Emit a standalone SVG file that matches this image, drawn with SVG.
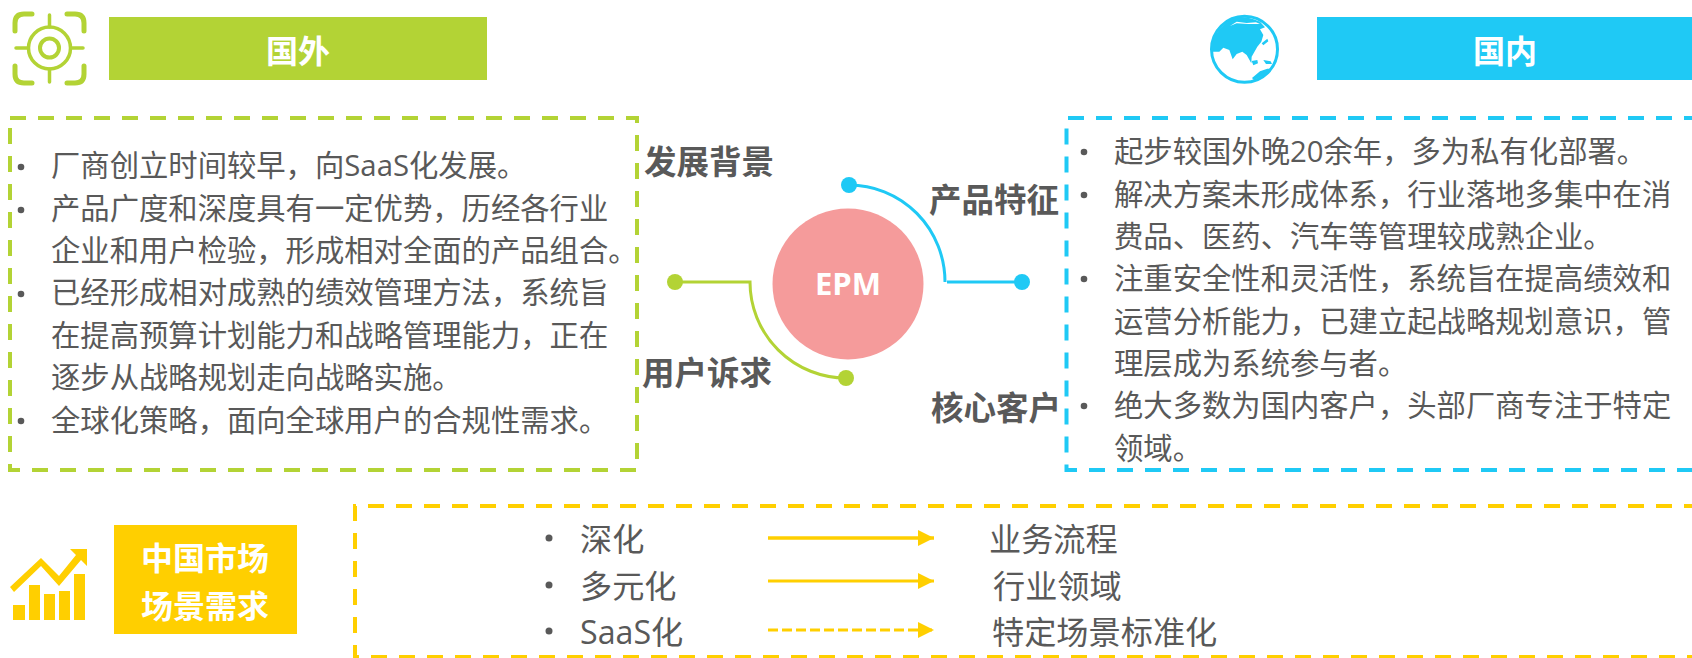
<svg xmlns="http://www.w3.org/2000/svg" width="1692" height="658" viewBox="0 0 1692 658">
<style>
text{font-family:"Open Sans","Noto Sans CJK SC","Noto Sans",sans-serif;fill:#595959}
.b{font-size:29.330px}
.m{font-size:32.200px}
.h{font-size:32.500px;font-weight:700}
.w{font-size:32px;font-weight:700;fill:#fff;text-anchor:middle}
.dg,.dc,.dy{fill:none;stroke-width:4;stroke-dasharray:16 12}
.dg{stroke:#B3D335}.dc{stroke:#1FC9F5}.dy{stroke:#FFCF00}
.ar{stroke:#FFCF00;fill:none}
.ico{fill:none;stroke:#B3D335;stroke-linecap:round}
.dot{fill:#595959}
</style>
<defs>
<marker id="ah" markerUnits="userSpaceOnUse" markerWidth="16" markerHeight="16" refX="16" refY="8" orient="auto"><path d="M0 0L16 8L0 16z" fill="#FFCF00"/></marker>
</defs>
<g id="icon-target">
<path class="ico" stroke-width="5" d="M15 31V23Q15 14 24 14H32M67 14H75Q84 14 84 23V31M84 66V74Q84 83 75 83H67M32 83H24Q15 83 15 74V66"/>
<circle class="ico" cx="49.500" cy="48" r="21" stroke-width="3.500"/>
<circle class="ico" cx="49.500" cy="48" r="9.500" stroke-width="4"/>
<path class="ico" stroke-width="3.500" d="M49.500 15V27M49.500 69V82M16 48H28M71 48H83"/>
</g>
<g id="header-foreign"><rect x="109" y="17" width="378" height="63" fill="#B3D335"/><text class="w" x="298" y="63">国外</text></g>
<g id="icon-globe">
<circle cx="1244.500" cy="49.300" r="33" fill="#fff" stroke="#1FC9F5" stroke-width="3"/>
<g transform="translate(1180 0) scale(.3333)" fill="#1FC9F5">
<path d="M95 155Q90 125 110 100Q125 75 160 55Q195 45 240 65L255 82L240 88L250 105L244 125L232 140L215 170L214 190L200 165L187 155L170 162L158 178L148 150L130 143L118 155Z"/>
<path fill="#fff" d="M150 78L170 70L205 72L240 72L228 67L200 69L170 65Z"/>
<path d="M245 130L262 116L265 124L250 136ZM215 183L232 180L234 190L220 196ZM250 180L272 184L276 192L258 192ZM216 234L240 214L262 206L276 206L262 222L240 232L222 240Z"/>
</g>
</g>
<g id="header-domestic"><rect x="1317" y="17" width="375" height="63" fill="#1FC9F5"/><text class="w" x="1505" y="63">国内</text></g>
<g id="box-foreign">
<rect class="dg" x="10" y="118" width="627" height="352"/>
<circle class="dot" cx="21" cy="167" r="3.300"/><circle class="dot" cx="21" cy="210" r="3.300"/><circle class="dot" cx="21" cy="294" r="3.300"/><circle class="dot" cx="21" cy="421" r="3.300"/>
<text class="b" x="51" y="176">厂商创立时间较早，向SaaS化发展。</text>
<text class="b" x="51" y="219">产品广度和深度具有一定优势，历经各行业</text>
<text class="b" x="51" y="261">企业和用户检验，形成相对全面的产品组合。</text>
<text class="b" x="51" y="303">已经形成相对成熟的绩效管理方法，系统旨</text>
<text class="b" x="51" y="346">在提高预算计划能力和战略管理能力，正在</text>
<text class="b" x="51" y="388">逐步从战略规划走向战略实施。</text>
<text class="b" x="51" y="431">全球化策略，面向全球用户的合规性需求。</text>
</g>
<g id="box-domestic">
<path class="dc" d="M1700 118H1066.500V470H1700"/>
<circle class="dot" cx="1084" cy="152" r="3.300"/><circle class="dot" cx="1084" cy="195" r="3.300"/><circle class="dot" cx="1084" cy="279" r="3.300"/><circle class="dot" cx="1084" cy="406" r="3.300"/>
<text class="b" x="1114" y="162">起步较国外晚20余年，多为私有化部署。</text>
<text class="b" x="1114" y="205">解决方案未形成体系，行业落地多集中在消</text>
<text class="b" x="1114" y="247">费品、医药、汽车等管理较成熟企业。</text>
<text class="b" x="1114" y="289">注重安全性和灵活性，系统旨在提高绩效和</text>
<text class="b" x="1114" y="332">运营分析能力，已建立起战略规划意识，管</text>
<text class="b" x="1114" y="374">理层成为系统参与者。</text>
<text class="b" x="1114" y="416">绝大多数为国内客户，头部厂商专注于特定</text>
<text class="b" x="1114" y="459">领域。</text>
</g>
<g id="connectors" fill="none" stroke-width="3">
<path stroke="#1FC9F5" d="M849 185A96 97 0 0 1 945 282M947 282H1022"/>
<path stroke="#B3D335" d="M675 282H750A96 96 0 0 0 846 378"/>
<circle cx="849" cy="185" r="8" fill="#1FC9F5" stroke="none"/>
<circle cx="1022" cy="282" r="8" fill="#1FC9F5" stroke="none"/>
<circle cx="675" cy="282" r="8" fill="#B3D335" stroke="none"/>
<circle cx="846" cy="378" r="8" fill="#B3D335" stroke="none"/>
<path class="ar" stroke-width="3.500" marker-end="url(#ah)" d="M768 538H934"/>
<path class="ar" stroke-width="3" marker-end="url(#ah)" d="M768 581H934"/>
<path class="ar" stroke-width="3" stroke-dasharray="10 4" marker-end="url(#ah)" d="M768 630H934"/>
</g>
<g id="hub"><circle cx="848" cy="284" r="75.500" fill="#F59B9B"/><text x="848" y="295" text-anchor="middle" style="font-size:31px;font-weight:700;fill:#fff">EPM</text></g>
<g id="label-bg"><text class="h" x="644" y="174">发展背景</text></g>
<g id="label-prod"><text class="h" x="929" y="212">产品特征</text></g>
<g id="label-user"><text class="h" x="642" y="385">用户诉求</text></g>
<g id="label-core"><text class="h" x="931" y="420">核心客户</text></g>
<g id="icon-chart" fill="#FFCF00">
<rect x="13" y="605" width="12" height="15"/><rect x="29" y="585" width="11" height="35"/><rect x="44" y="594" width="11" height="26"/><rect x="59" y="591" width="11" height="29"/><rect x="74" y="574" width="11" height="46"/>
<path d="M70 549H87V566L81 560L59 586L41 566L14 592L10 587L41 558L59 576L76 555Z"/>
</g>
<g id="header-market"><rect x="114" y="525" width="183" height="109" fill="#FFCF00"/><text class="w" x="205" y="570">中国市场</text><text class="w" x="205" y="618">场景需求</text></g>
<g id="box-market">
<path class="dy" d="M1700 506H355V657H1700"/>
<circle class="dot" cx="549" cy="538" r="3.500"/><circle class="dot" cx="549" cy="585" r="3.500"/><circle class="dot" cx="549" cy="631" r="3.500"/>
<text class="m" x="580" y="551">深化</text>
<text class="m" x="580" y="598">多元化</text>
<text class="m" x="580" y="644">SaaS化</text>
<text class="m" x="989" y="551">业务流程</text>
<text class="m" x="993" y="598">行业领域</text>
<text class="m" x="992" y="644">特定场景标准化</text>
</g>
</svg>
